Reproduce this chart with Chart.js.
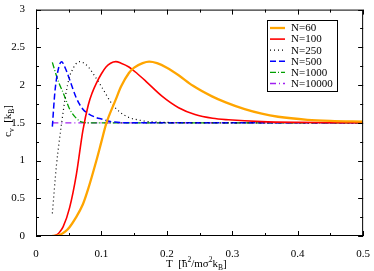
<!DOCTYPE html>
<html lang="en">
  <head>
    <meta charset="UTF-8" />
    <title>Heat capacity</title>
    <script src="https://cdn.jsdelivr.net/npm/chart.js@4.5.0/dist/chart.umd.min.js"></script>
    <style>
      html, body { margin: 0; padding: 0; background: #fff; }
    </style>
  </head>
  <body>
    <canvas id="myChart" width="374" height="271"></canvas>

    <script>
      // series names
      const seriesNames = ["N=60", "N=100", "N=250", "N=500", "N=1000", "N=10000"];

      // N=60
      const t60 = [0.025, 0.035, 0.045, 0.0515, 0.06, 0.0717, 0.08, 0.092, 0.1, 0.107, 0.122, 0.13, 0.142, 0.15, 0.163, 0.173, 0.185, 0.2, 0.218, 0.24, 0.269, 0.29, 0.319, 0.345, 0.37, 0.415, 0.45, 0.5];
      const cv60 = [0, 0.01, 0.06, 0.12, 0.23, 0.42, 0.63, 0.99, 1.25, 1.48, 1.81, 1.98, 2.16, 2.23, 2.29, 2.31, 2.29, 2.23, 2.13, 1.99, 1.85, 1.77, 1.68, 1.62, 1.58, 1.54, 1.525, 1.515];
      // N=100
      const t100 = [0.025, 0.03, 0.035, 0.0414, 0.0515, 0.0616, 0.0717, 0.08, 0.086, 0.092, 0.1, 0.107, 0.114, 0.122, 0.13, 0.142, 0.155, 0.168, 0.193, 0.218, 0.243, 0.27, 0.294, 0.345, 0.4, 0.5];
      const cv100 = [0, 0.01, 0.04, 0.12, 0.38, 0.81, 1.40, 1.74, 1.90, 2.02, 2.15, 2.24, 2.29, 2.31, 2.29, 2.24, 2.15, 2.05, 1.85, 1.70, 1.61, 1.56, 1.54, 1.515, 1.505, 1.5];
      // N=250
      const t250 = [0.025, 0.0313, 0.035, 0.04, 0.045, 0.0515, 0.055, 0.06, 0.0667, 0.075, 0.08, 0.092, 0.1, 0.117, 0.13, 0.142, 0.155, 0.168, 0.185, 0.2, 0.25, 0.5];
      const cv250 = [0.30, 0.94, 1.22, 1.55, 1.85, 2.12, 2.19, 2.27, 2.31, 2.28, 2.24, 2.09, 1.98, 1.74, 1.63, 1.57, 1.54, 1.52, 1.51, 1.505, 1.5, 1.5];
      // N=500
      const t500 = [0.025, 0.0288, 0.0338, 0.039, 0.045, 0.0515, 0.0616, 0.0717, 0.08, 0.092, 0.1, 0.112, 0.12, 0.14, 0.5];
      const cv500 = [1.45, 1.90, 2.20, 2.31, 2.22, 2.07, 1.83, 1.68, 1.62, 1.57, 1.55, 1.52, 1.51, 1.5, 1.5];
      // N=1000
      const t1000 = [0.025, 0.031, 0.035, 0.0414, 0.045, 0.0515, 0.055, 0.0616, 0.067, 0.072, 0.08, 0.5];
      const cv1000 = [2.30, 2.13, 2.03, 1.90, 1.82, 1.68, 1.63, 1.56, 1.52, 1.505, 1.5, 1.5];
      // N=10000
      const t10000 = [0.025, 0.5];
      const cv10000 = [1.5, 1.5];

      const xTicks = [0, 0.1, 0.2, 0.3, 0.4, 0.5];
      const yTicks = [0, 0.5, 1, 1.5, 2, 2.5, 3];

      const pts = (xs, ys) => xs.map((x, i) => ({ x: x, y: ys[i] }));

      const serif = "'Liberation Serif', 'DejaVu Serif', serif";

      const styles = [
        { color: "#ffa500", width: 2.3, dash: [] },
        { color: "#ff0000", width: 1.6, dash: [] },
        { color: "#000000", width: 1.2, dash: [1, 3] },
        { color: "#0000ff", width: 1.5, dash: [6, 3] },
        { color: "#00a000", width: 1.3, dash: [6, 2, 1, 2] },
        { color: "#a020f0", width: 1.3, dash: [6, 3, 1, 3] },
      ];
      const xs = [t60, t100, t250, t500, t1000, t10000];
      const ys = [cv60, cv100, cv250, cv500, cv1000, cv10000];

      const datasets = seriesNames.map((name, i) => ({
        label: name,
        data: pts(xs[i], ys[i]),
        borderColor: styles[i].color,
        borderWidth: styles[i].width,
        borderDash: styles[i].dash,
        pointRadius: 0,
        fill: false,
        cubicInterpolationMode: "monotone",
        order: i,
      }));

      const frame = {
        id: "frame",
        afterDraw(chart) {
          const c = chart.ctx;
          const a = chart.chartArea;
          const sx = chart.scales.x, sy = chart.scales.y;
          c.save();
          c.strokeStyle = "#000";
          c.lineWidth = 1;
          c.setLineDash([]);
          c.strokeRect(a.left + 0.5, a.top + 0.5, a.right - a.left - 1, a.bottom - a.top - 1);
          c.beginPath();
          for (let k = 0; k <= 10; k++) {
            const v = k * 0.05;
            const px = Math.round(sx.getPixelForValue(v)) + 0.5;
            const len = k % 2 === 0 ? 5 : 3;
            c.moveTo(px, a.bottom); c.lineTo(px, a.bottom - len);
            c.moveTo(px, a.top); c.lineTo(px, a.top + len);
          }
          for (let k = 0; k <= 12; k++) {
            const v = k * 0.25;
            const py = Math.round(sy.getPixelForValue(v)) + 0.5;
            const len = k % 2 === 0 ? 5 : 3;
            c.moveTo(a.left, py); c.lineTo(a.left + len, py);
            c.moveTo(a.right, py); c.lineTo(a.right - len, py);
          }
          c.stroke();

          // legend
          const lx = 267, ly = 20, lw = 70, lh = 71;
          c.fillStyle = "#fff";
          c.fillRect(lx, ly, lw, lh);
          c.strokeStyle = "#000";
          c.strokeRect(lx + 0.5, ly + 0.5, lw, lh);
          c.font = "11px " + serif;
          c.textBaseline = "middle";
          chart.data.datasets.forEach((d, i) => {
            const yy = ly + 8 + i * 11.1;
            c.beginPath();
            c.strokeStyle = d.borderColor;
            c.lineWidth = d.borderWidth;
            c.setLineDash(d.borderDash);
            c.moveTo(lx + 3, yy); c.lineTo(lx + 18, yy);
            c.stroke();
            c.setLineDash([]);
            c.fillStyle = "#000";
            c.fillText(d.label, lx + 24, yy + 0.5);
          });

          // axis titles
          c.fillStyle = "#000";
          c.textBaseline = "alphabetic";
          let x = 166, y = 267;
          const put = (s, size, dy) => {
            c.font = size + "px " + serif;
            c.fillText(s, x, y + dy);
            x += c.measureText(s).width;
          };
          // x title: T [h-bar^2/m sigma^2 k_B]
          put("T  [", 11, 0);
          const hx = x;
          put("h", 11, 0);
          put("2", 7.5, -5);
          put("/m\u03c3", 11, 0);
          put("2", 7.5, -5);
          put("k", 11, 0);
          put("B", 7.5, 3);
          put("]", 11, 0);
          c.beginPath();
          c.lineWidth = 0.8;
          c.strokeStyle = "#000";
          c.moveTo(hx, 260.5); c.lineTo(hx + 4, 260.5);
          c.stroke();

          // y title: c_v [k_B]
          c.translate(11, 137);
          c.rotate(-Math.PI / 2);
          x = 0; y = 0;
          put("c", 11, 0);
          put("v", 7.5, 3);
          put("  [k", 11, 0);
          put("B", 7.5, 3);
          put("]", 11, 0);
          c.restore();
        },
      };

      const ctx = document.getElementById("myChart");

      new Chart(ctx, {
        type: "line",
        data: { datasets: datasets },
        options: {
          responsive: false,
          animation: false,
          devicePixelRatio: 1,
          layout: { padding: { top: 5, right: 8, left: 0, bottom: 0 } },
          plugins: { legend: { display: false }, tooltip: { enabled: false } },
          scales: {
            x: {
              type: "linear",
              min: 0,
              max: 0.5,
              afterBuildTicks: (s) => { s.ticks = xTicks.map((v) => ({ value: v })); },
              afterFit: (s) => { s.height = 35; },
              grid: { display: false },
              border: { display: false },
              ticks: {
                color: "#000",
                font: { family: serif, size: 11 },
                padding: 4,
                maxRotation: 0,
                callback: (v) => String(v),
              },
            },
            y: {
              min: 0,
              max: 3,
              afterBuildTicks: (s) => { s.ticks = yTicks.map((v) => ({ value: v })); },
              afterFit: (s) => { s.width = 36; },
              grid: { display: false },
              border: { display: false },
              ticks: {
                color: "#000",
                font: { family: serif, size: 11 },
                padding: 3,
                callback: (v) => String(v),
              },
            },
          },
        },
        plugins: [frame],
      });
    </script>
  </body>
</html>
